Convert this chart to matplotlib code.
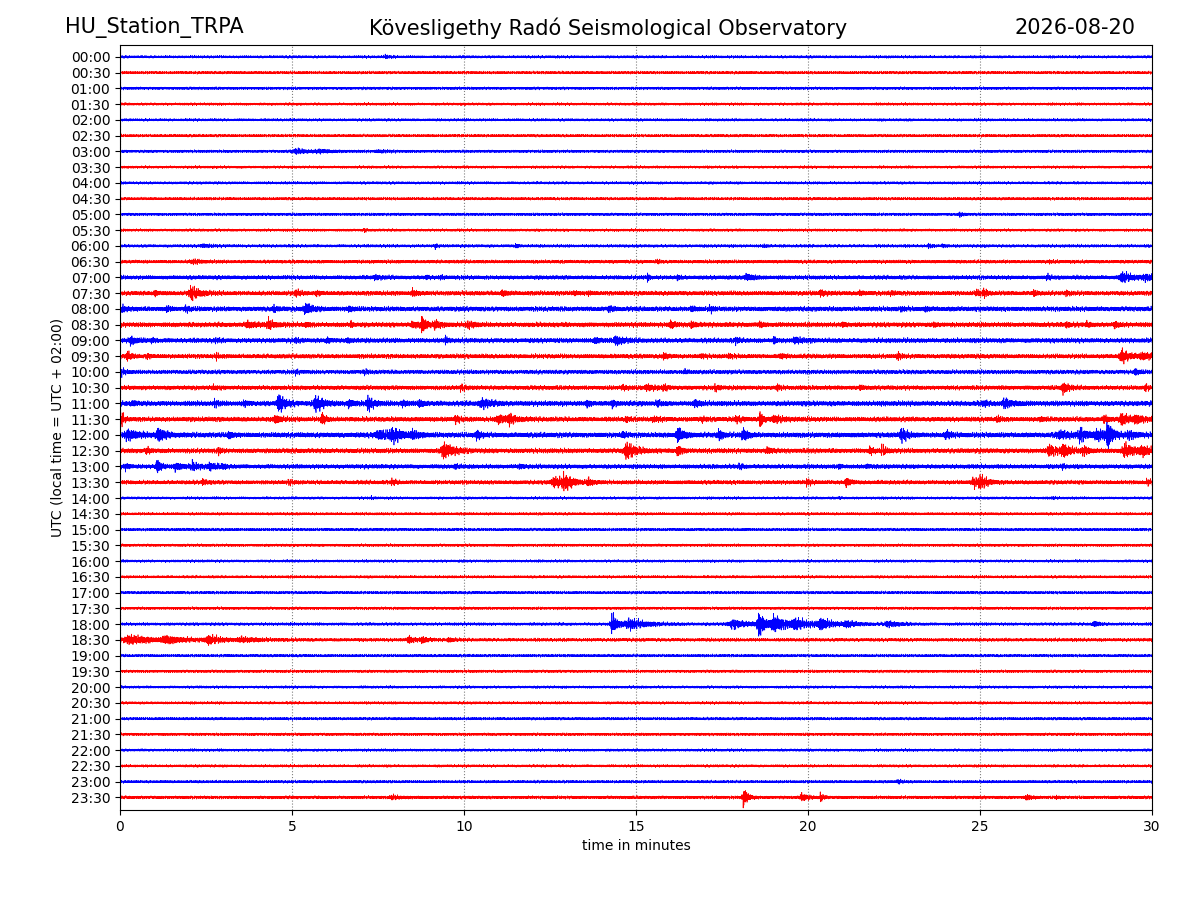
import numpy as np
import matplotlib
matplotlib.use("Agg")
import matplotlib.pyplot as plt

station = "HU_Station_TRPA"
observatory = "Kövesligethy Radó Seismological Observatory"
day = "2026-08-20"

row_labels = ["00:00", "00:30", "01:00", "01:30", "02:00", "02:30", "03:00", "03:30",
              "04:00", "04:30", "05:00", "05:30", "06:00", "06:30", "07:00", "07:30",
              "08:00", "08:30", "09:00", "09:30", "10:00", "10:30", "11:00", "11:30",
              "12:00", "12:30", "13:00", "13:30", "14:00", "14:30", "15:00", "15:30",
              "16:00", "16:30", "17:00", "17:30", "18:00", "18:30", "19:00", "19:30",
              "20:00", "20:30", "21:00", "21:30", "22:00", "22:30", "23:00", "23:30"]

# background noise half-width of each line (in line spacings)
noise_level = [0.08, 0.08, 0.08, 0.08, 0.08, 0.08, 0.08, 0.08,
               0.08, 0.08, 0.08, 0.08, 0.09, 0.10, 0.12, 0.13,
               0.14, 0.14, 0.14, 0.13, 0.12, 0.13, 0.15, 0.14,
               0.15, 0.14, 0.13, 0.12, 0.08, 0.08, 0.08, 0.08,
               0.08, 0.08, 0.08, 0.08, 0.09, 0.10, 0.08, 0.08,
               0.08, 0.08, 0.08, 0.08, 0.08, 0.08, 0.08, 0.09]

# visible bursts: (line, minute of peak, peak half-amplitude, decay in minutes)
events = [
    ("00:00", 7.7, 0.08, 0.15),
    ("03:00", 5.1, 0.14, 0.4), ("03:00", 5.8, 0.08, 0.4), ("03:00", 7.5, 0.05, 0.4),
    ("05:00", 24.4, 0.12, 0.1),
    ("05:30", 7.1, 0.10, 0.05),
    ("06:00", 2.4, 0.06, 0.3), ("06:00", 9.15, 0.12, 0.08), ("06:00", 11.5, 0.10, 0.08),
    ("06:00", 18.7, 0.08, 0.1), ("06:00", 23.5, 0.12, 0.1), ("06:00", 23.9, 0.08, 0.1),
    ("06:30", 2.1, 0.12, 0.2), ("06:30", 15.6, 0.10, 0.1), ("06:30", 27.0, 0.06, 0.1),
    ("07:00", 7.4, 0.10, 0.2), ("07:00", 8.9, 0.10, 0.1), ("07:00", 9.3, 0.08, 0.1),
    ("07:00", 15.33, 0.30, 0.04), ("07:00", 16.2, 0.16, 0.08), ("07:00", 18.2, 0.20, 0.2),
    ("07:00", 26.94, 0.16, 0.08), ("07:00", 29.12, 0.30, 0.3), ("07:00", 29.8, 0.14, 0.3),
    ("07:30", 1.0, 0.16, 0.1), ("07:30", 2.05, 0.38, 0.25), ("07:30", 5.1, 0.20, 0.12),
    ("07:30", 5.7, 0.12, 0.1), ("07:30", 8.5, 0.20, 0.12), ("07:30", 11.1, 0.16, 0.12),
    ("07:30", 13.2, 0.12, 0.1), ("07:30", 13.6, 0.10, 0.1), ("07:30", 20.35, 0.20, 0.12),
    ("07:30", 21.5, 0.10, 0.1), ("07:30", 22.4, 0.10, 0.1), ("07:30", 24.9, 0.16, 0.12),
    ("07:30", 25.1, 0.20, 0.1), ("07:30", 26.55, 0.16, 0.1), ("07:30", 27.5, 0.12, 0.1),
    ("08:00", 0.05, 0.20, 0.1), ("08:00", 1.35, 0.16, 0.1), ("08:00", 1.9, 0.16, 0.1),
    ("08:00", 4.45, 0.24, 0.08), ("08:00", 5.38, 0.32, 0.2), ("08:00", 6.65, 0.16, 0.12),
    ("08:00", 14.2, 0.16, 0.1), ("08:00", 16.6, 0.16, 0.1), ("08:00", 17.15, 0.20, 0.08),
    ("08:00", 22.7, 0.10, 0.1), ("08:00", 23.4, 0.10, 0.12),
    ("08:30", 3.7, 0.16, 0.3), ("08:30", 4.3, 0.30, 0.15), ("08:30", 5.4, 0.12, 0.1),
    ("08:30", 6.7, 0.26, 0.04), ("08:30", 8.5, 0.16, 0.2), ("08:30", 8.77, 0.55, 0.12),
    ("08:30", 9.15, 0.24, 0.15), ("08:30", 10.1, 0.16, 0.2), ("08:30", 16.0, 0.20, 0.15),
    ("08:30", 16.6, 0.20, 0.1), ("08:30", 18.6, 0.16, 0.1), ("08:30", 21.0, 0.12, 0.1),
    ("08:30", 23.65, 0.10, 0.1), ("08:30", 27.5, 0.14, 0.1), ("08:30", 28.1, 0.12, 0.1),
    ("08:30", 28.9, 0.20, 0.1),
    ("09:00", 0.3, 0.24, 0.15), ("09:00", 0.92, 0.12, 0.1), ("09:00", 2.76, 0.10, 0.1),
    ("09:00", 5.1, 0.10, 0.1), ("09:00", 6.0, 0.16, 0.1), ("09:00", 6.6, 0.14, 0.1),
    ("09:00", 9.45, 0.24, 0.06), ("09:00", 13.8, 0.16, 0.15), ("09:00", 14.4, 0.28, 0.2),
    ("09:00", 17.9, 0.16, 0.1), ("09:00", 19.0, 0.32, 0.05), ("09:00", 19.6, 0.16, 0.2),
    ("09:30", 0.2, 0.30, 0.1), ("09:30", 0.78, 0.12, 0.1), ("09:30", 2.8, 0.22, 0.04),
    ("09:30", 15.8, 0.16, 0.1), ("09:30", 16.9, 0.10, 0.1), ("09:30", 17.7, 0.12, 0.1),
    ("09:30", 19.2, 0.12, 0.1), ("09:30", 22.6, 0.24, 0.08), ("09:30", 29.1, 0.42, 0.2),
    ("09:30", 29.7, 0.16, 0.3),
    ("10:00", 0.05, 0.16, 0.1), ("10:00", 5.1, 0.10, 0.1), ("10:00", 7.1, 0.10, 0.1),
    ("10:00", 16.4, 0.12, 0.1), ("10:00", 29.5, 0.20, 0.1),
    ("10:30", 2.7, 0.10, 0.1), ("10:30", 9.9, 0.16, 0.1), ("10:30", 14.6, 0.14, 0.1),
    ("10:30", 15.3, 0.16, 0.25), ("10:30", 15.8, 0.14, 0.12), ("10:30", 17.3, 0.16, 0.1),
    ("10:30", 19.1, 0.20, 0.08), ("10:30", 21.5, 0.10, 0.1), ("10:30", 27.4, 0.34, 0.15),
    ("10:30", 29.8, 0.28, 0.05),
    ("11:00", 0.35, 0.10, 0.1), ("11:00", 2.75, 0.16, 0.1), ("11:00", 3.6, 0.16, 0.1),
    ("11:00", 4.6, 0.64, 0.15), ("11:00", 5.67, 0.50, 0.22), ("11:00", 6.64, 0.24, 0.12),
    ("11:00", 7.2, 0.44, 0.15), ("11:00", 8.2, 0.16, 0.15), ("11:00", 8.7, 0.20, 0.12),
    ("11:00", 10.5, 0.24, 0.3), ("11:00", 13.56, 0.20, 0.1), ("11:00", 14.3, 0.16, 0.1),
    ("11:00", 15.6, 0.16, 0.1), ("11:00", 16.7, 0.20, 0.12), ("11:00", 25.1, 0.16, 0.1),
    ("11:00", 25.7, 0.24, 0.25),
    ("11:30", 0.05, 0.43, 0.06), ("11:30", 4.5, 0.24, 0.15), ("11:30", 5.86, 0.38, 0.1),
    ("11:30", 9.74, 0.24, 0.1), ("11:30", 11.0, 0.24, 0.3), ("11:30", 11.3, 0.30, 0.15),
    ("11:30", 14.7, 0.24, 0.06), ("11:30", 15.5, 0.12, 0.2), ("11:30", 16.9, 0.12, 0.1),
    ("11:30", 17.9, 0.16, 0.15), ("11:30", 18.6, 0.58, 0.08), ("11:30", 19.0, 0.20, 0.25),
    ("11:30", 25.5, 0.16, 0.1), ("11:30", 26.75, 0.12, 0.1), ("11:30", 28.6, 0.20, 0.12),
    ("11:30", 29.1, 0.36, 0.2), ("11:30", 29.5, 0.24, 0.2),
    ("12:00", 0.2, 0.28, 0.35), ("12:00", 1.1, 0.43, 0.2), ("12:00", 3.15, 0.24, 0.1),
    ("12:00", 7.5, 0.24, 0.4), ("12:00", 7.9, 0.36, 0.3), ("12:00", 8.5, 0.20, 0.2),
    ("12:00", 10.36, 0.28, 0.12), ("12:00", 14.6, 0.16, 0.1), ("12:00", 16.2, 0.53, 0.15),
    ("12:00", 17.4, 0.36, 0.1), ("12:00", 18.1, 0.36, 0.15), ("12:00", 22.7, 0.44, 0.15),
    ("12:00", 24.0, 0.24, 0.15), ("12:00", 27.3, 0.20, 0.4), ("12:00", 27.9, 0.36, 0.2),
    ("12:00", 28.4, 0.30, 0.4), ("12:00", 28.7, 0.90, 0.12), ("12:00", 29.3, 0.20, 0.2),
    ("12:30", 0.77, 0.16, 0.1), ("12:30", 2.86, 0.24, 0.06), ("12:30", 9.4, 0.53, 0.25),
    ("12:30", 14.7, 0.50, 0.25), ("12:30", 16.2, 0.40, 0.1), ("12:30", 18.8, 0.20, 0.12),
    ("12:30", 21.8, 0.24, 0.1), ("12:30", 22.15, 0.30, 0.1), ("12:30", 27.0, 0.36, 0.2),
    ("12:30", 27.4, 0.40, 0.2), ("12:30", 28.0, 0.24, 0.15), ("12:30", 29.2, 0.40, 0.3),
    ("12:30", 29.7, 0.24, 0.2),
    ("13:00", 0.15, 0.16, 0.1), ("13:00", 1.07, 0.53, 0.1), ("13:00", 1.6, 0.22, 0.2),
    ("13:00", 2.1, 0.20, 0.2), ("13:00", 2.6, 0.18, 0.2), ("13:00", 3.0, 0.12, 0.1),
    ("13:00", 9.74, 0.16, 0.05), ("13:00", 11.6, 0.12, 0.1), ("13:00", 18.0, 0.12, 0.1),
    ("13:00", 20.9, 0.20, 0.05), ("13:00", 21.7, 0.10, 0.1), ("13:00", 27.4, 0.16, 0.05),
    ("13:30", 2.4, 0.16, 0.1), ("13:30", 4.9, 0.12, 0.1), ("13:30", 7.9, 0.16, 0.1),
    ("13:30", 12.6, 0.30, 0.3), ("13:30", 12.9, 0.40, 0.25), ("13:30", 13.6, 0.24, 0.12),
    ("13:30", 19.96, 0.20, 0.1), ("13:30", 21.1, 0.36, 0.1), ("13:30", 24.8, 0.30, 0.15),
    ("13:30", 25.0, 0.36, 0.2), ("13:30", 29.85, 0.16, 0.1),
    ("14:00", 7.3, 0.08, 0.05), ("14:00", 20.9, 0.08, 0.05), ("14:00", 27.1, 0.08, 0.05),
    ("18:00", 14.3, 0.70, 0.15), ("18:00", 14.8, 0.30, 0.5), ("18:00", 17.8, 0.24, 0.5),
    ("18:00", 18.56, 0.75, 0.2), ("18:00", 19.0, 0.50, 0.35), ("18:00", 19.6, 0.30, 0.4),
    ("18:00", 20.35, 0.36, 0.3), ("18:00", 21.1, 0.20, 0.3), ("18:00", 22.3, 0.16, 0.3),
    ("18:00", 28.3, 0.16, 0.15),
    ("18:30", 0.24, 0.28, 0.6), ("18:30", 1.3, 0.20, 0.5), ("18:30", 2.56, 0.28, 0.3),
    ("18:30", 3.5, 0.14, 0.5), ("18:30", 8.38, 0.28, 0.15), ("18:30", 8.77, 0.20, 0.15),
    ("18:30", 9.54, 0.12, 0.12),
    ("23:00", 22.6, 0.12, 0.1),
    ("23:30", 7.9, 0.10, 0.3), ("23:30", 18.12, 0.64, 0.12), ("23:30", 19.8, 0.24, 0.15),
    ("23:30", 20.35, 0.30, 0.08), ("23:30", 26.35, 0.16, 0.15), ("23:30", 27.2, 0.12, 0.05),
]

line_colors = ["blue", "red"]

fig = plt.figure(figsize=(12, 9), dpi=100)
ax = fig.add_axes([0.1, 0.1, 0.86, 0.85])

t = np.linspace(0, 30, 9000)
carrier_freqs = [113.7, 71.3, 139.9, 97.1, 53.3]
for i, lab in enumerate(row_labels):
    env = np.full_like(t, noise_level[i])
    for r, m, a, d in events:
        if r != lab:
            continue
        x = (t - m) / d
        env += a * np.where(x < 0, np.exp(np.minimum(6 * x, 0)), np.exp(-x))
    # wiggle texture inside the envelope (sum of sines, peaks near +-1)
    ph = i * 0.713
    wig = sum(np.sin(2 * np.pi * f * t + (k + 1) * ph) for k, f in enumerate(carrier_freqs))
    wig *= 0.45 / np.sqrt(len(carrier_freqs) / 2)
    ax.plot(t, i + env * wig, color=line_colors[i % 2], lw=0.5)

ax.set_xlim(0, 30)
ax.set_ylim(47.8, -0.75)
ax.set_xticks([0, 5, 10, 15, 20, 25, 30])
ax.set_yticks(range(len(row_labels)))
ax.set_yticklabels(row_labels)
ax.xaxis.grid(True, color="gray", linestyle=":", lw=0.8)
ax.set_xlabel("time in minutes")
ax.set_ylabel("UTC (local time = UTC + 02:00)")

fig.text(0.054, 0.969, station, fontsize=15, ha="left", va="center")
fig.text(0.507, 0.969, observatory, fontsize=15, ha="center", va="center")
fig.text(0.946, 0.969, day, fontsize=15, ha="right", va="center")

fig.savefig("out.png", dpi=100)
